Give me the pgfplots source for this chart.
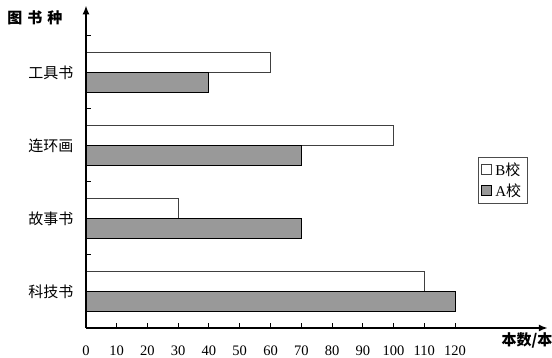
\documentclass[border=0pt]{standalone}
\usepackage{pgfplots}
\pgfplotsset{compat=1.18}
\usetikzlibrary{arrows.meta}
\usepackage{fontspec}
\setmainfont{Liberation Serif}
\newfontfamily\cjk{Noto Sans CJK SC}
\definecolor{barGray}{RGB}{153,153,153}
\begin{document}
\begin{tikzpicture}
\useasboundingbox (-86pt,-30pt) rectangle (466pt,328pt);
\begin{axis}[
  at={(0pt,0pt)}, anchor=south west,
  x=3.075pt, y=73pt,
  xmin=0, xmax=150.2, ymin=-0.5, ymax=3.92,
  axis lines=left,
  axis on top,
  axis line style={line width=1.8pt, -{Latex[length=9pt,width=7pt]}},
  /pgf/number format/assume math mode=true,
  xtick={0,10,...,120},
  tick align=inside,
  major tick length=5pt,
  xtick style={draw=black, line width=1pt},
  xticklabel style={font=\fontsize{14.5}{16}\selectfont, yshift=-14pt},
  ytick={0,1,2,3},
  yticklabels={{\cjk 科技书},{\cjk 故事书},{\cjk 连环画},{\cjk 工具书}},
  ytick style={draw=none},
  yticklabel style={font=\fontsize{15}{17}\selectfont, xshift=-9pt},
  extra y ticks={0.5,1.5,2.5,3.5},
  extra y tick labels={},
  extra y tick style={ytick style={draw=black, line width=1pt}},
  legend style={at={(axis cs:127.5,1.84)}, anchor=north west, draw=black!70,
    line width=0.8pt, font=\fontsize{15}{17}\selectfont, inner xsep=3pt, inner ysep=3pt,
    row sep=3pt, nodes={inner xsep=3pt}},
  legend cell align=left,
  legend image code/.code={\draw[#1, line width=0.8pt] (0pt,-5pt) rectangle (10pt,5pt);},
  clip=false,
]
\addplot[xbar, bar width=20pt, bar shift=10pt, fill=white, draw=black!75, line width=1pt]
  coordinates {(110,0) (30,1) (100,2) (60,3)};
\addplot[xbar, bar width=20pt, bar shift=-10pt, fill=barGray, draw=black, line width=1pt]
  coordinates {(120,0) (70,1) (70,2) (40,3)};
\legend{B{\cjk 校},A{\cjk 校}}
\end{axis}
\node[font=\cjk\bfseries\fontsize{15}{17}\selectfont] at (-51pt,310pt) {图\hspace{5pt}书\hspace{5pt}种};
\node[font=\cjk\bfseries\fontsize{15}{17}\selectfont] at (441pt,-12pt) {本数/本};
\end{tikzpicture}
\end{document}
